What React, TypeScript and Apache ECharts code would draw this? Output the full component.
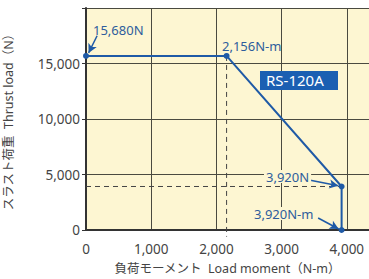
import React, { useEffect, useRef } from "react";
import * as echarts from "echarts";

const curveX = [0, 2156, 3920, 3920];
const curveY = [15680, 15680, 3920, 0];
const xTicks = [0, 1000, 2000, 3000, 4000];
const yTicks = [0, 5000, 10000, 15000, 20000];
const annotations = ["15,680N", "2,156N-m", "3,920N", "3,920N-m"];
const modelName = "RS-120A";
const xTitle = "負荷モーメント  Load moment（N-m）";
const yTitle = "スラスト荷重  Thrust load（N）";

const BLUE = "#1f5aa6";
const TXT = "#2e5d9c";

export default function App() {
  const ref = useRef<HTMLDivElement>(null);
  useEffect(() => {
    const chart = echarts.init(ref.current!, undefined, { renderer: "svg" });
    const fmt = (v: number) => v.toLocaleString("en-US");
    const pts = curveX.map((x, i) => [x, curveY[i]]);
    chart.setOption({
      animation: false,
      backgroundColor: "#ffffff",
      textStyle: { fontFamily: "Noto Sans, Noto Sans CJK JP" },
      grid: {
        left: 86, right: 0, top: 8, bottom: 49,
        containLabel: false,
        outerBoundsMode: "none",
        show: true, backgroundColor: "#fdf6d2", borderWidth: 0,
      },
      xAxis: {
        type: "value",
        min: 0,
        max: 4340,
        interval: 1000,
        name: xTitle,
        nameLocation: "middle",
        nameGap: 32,
        nameTextStyle: { fontSize: 12.5, color: "#444" },
        axisLine: { onZero: false, lineStyle: { color: "#333", width: 2 } },
        axisTick: { show: false },
        axisLabel: {
          fontSize: 13.5,
          color: "#444",
          margin: 12,
          formatter: (v: number) => (xTicks.includes(v) ? fmt(v) : ""),
        },
        splitLine: { lineStyle: { color: "#4a4a40", width: 1 } },
      },
      yAxis: {
        type: "value",
        min: 0,
        max: 20000,
        interval: 5000,
        name: yTitle,
        nameLocation: "middle",
        nameGap: 71,
        nameTextStyle: { fontSize: 12.5, color: "#444" },
        axisLine: { show: true, lineStyle: { color: "#333", width: 2 } },
        axisTick: { show: true, length: 4, inside: false, lineStyle: { color: "#333" } },
        axisLabel: {
          fontSize: 13.5,
          color: "#444",
          margin: 6,
          formatter: (v: number) => (yTicks.includes(v) && v < 20000 ? fmt(v) : ""),
        },
        splitLine: { lineStyle: { color: "#4a4a40", width: 1 } },
      },
      series: [
        {
          type: "line",
          data: [[curveX[1], curveY[1]], [curveX[1], -600]],
          clip: false,
          symbol: "none",
          lineStyle: { color: "#444", width: 1, type: [5, 4] },
          z: 3,
        },
        {
          type: "line",
          data: [[curveX[0], curveY[2]], [curveX[2], curveY[2]]],
          symbol: "none",
          lineStyle: { color: "#444", width: 1, type: [5, 4] },
          z: 3,
        },
        {
          type: "line",
          data: pts,
          clip: false,
          symbol: "circle",
          symbolSize: 6,
          itemStyle: { color: BLUE },
          lineStyle: { color: BLUE, width: 2 },
          z: 5,
          markLine: {
            silent: true,
            symbol: ["none", "arrow"],
            symbolSize: [7, 9],
            label: { show: false },
            lineStyle: { color: BLUE, width: 1.5, type: "solid" },
            data: [
              [{ coord: [170, 17500] }, { coord: [40, 15950] }],
              [{ coord: [3440, 4480] }, { coord: [3870, 3990] }],
              [{ coord: [3560, 1080] }, { coord: [3875, 90] }],
            ],
          },
        },
      ],
      graphic: [
        { type: "text", z: 100, left: 93, top: 23, style: { text: annotations[0], fontSize: 13, fill: TXT, fontFamily: "Noto Sans" } },
        { type: "text", z: 100, left: 222, top: 39, style: { text: annotations[1], fontSize: 13, fill: TXT, fontFamily: "Noto Sans" } },
        { type: "text", z: 100, left: 264, top: 170, style: { text: annotations[2], fontSize: 13, fill: TXT, fontFamily: "Noto Sans", backgroundColor: "#fdf6d2", padding: [0, 2] } },
        { type: "text", z: 100, left: 252, top: 207, style: { text: annotations[3], fontSize: 13, fill: TXT, fontFamily: "Noto Sans", backgroundColor: "#fdf6d2", padding: [0, 2] } },
        { type: "rect", z: 100, left: 260, top: 71, shape: { width: 78, height: 19 }, style: { fill: "#1b5fb2" } },
        { type: "text", z: 101, left: 266, top: 72, style: { text: modelName, fontSize: 15, fill: "#ffffff", fontFamily: "Noto Sans" } },
      ],
    });
    return () => chart.dispose();
  }, []);
  return <div ref={ref} style={{ width: 369, height: 279, position: "absolute", left: 0, top: 0 }} />;
}
